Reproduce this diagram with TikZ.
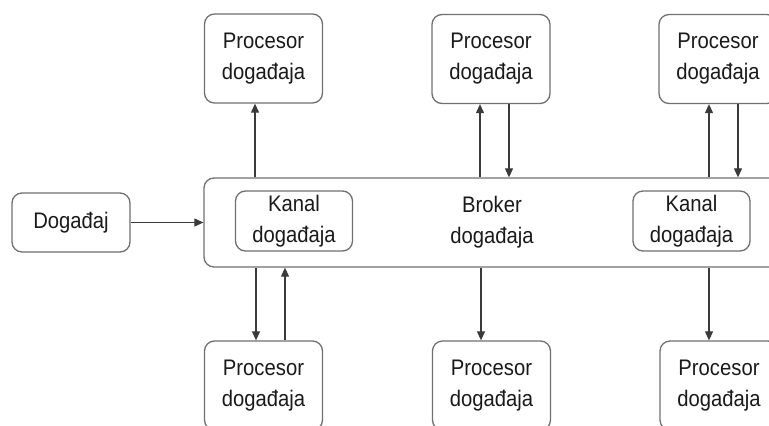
\documentclass[tikz,border=0pt]{standalone}
\usepackage{fontspec}
\setmainfont{Liberation Sans}[FakeStretch=0.9]
\usetikzlibrary{arrows.meta}
\definecolor{boxline}{HTML}{707070}
\definecolor{arrline}{HTML}{3A3A3A}
\definecolor{txt}{HTML}{1A1A1A}
\tikzset{
  box/.style={draw=boxline, line width=1.3pt, rounded corners=10pt, fill=white,
    text=txt, align=center, inner sep=0pt,
    font=\fontsize{22.5}{31}\selectfont},
  proc/.style={box, minimum width=118pt, minimum height=89pt},
  kanal/.style={box, minimum width=117pt, minimum height=60pt},
  lbl/.style={text=txt, align=center, font=\fontsize{22.5}{31}\selectfont},
  arr/.style={draw=arrline, line width=1.1pt, -{Triangle[length=9pt,width=8pt]}}
}
\begin{document}
\begin{tikzpicture}[x=1pt,y=-1pt]
\useasboundingbox (0,0) rectangle (769,426);
\clip (0,0) rectangle (769,426);
\node[box, minimum width=118pt, minimum height=59pt] (dog) at (71,222.5) {Događaj};
\node[box, minimum width=600pt, minimum height=89pt] (broker) at (504,222.5) {};
\node[lbl] (brokertxt) at (492,222) {Broker\\događaja};
\node[kanal] (k1) at (294,221) {Kanal\\događaja};
\node[kanal] (k2) at (691.5,221) {Kanal\\događaja};
\node[proc] (pt1) at (263.5,58.5) {Procesor\\događaja};
\node[proc] (pt2) at (491,59) {Procesor\\događaja};
\node[proc] (pt3) at (718,59) {Procesor\\događaja};
\node[proc] (pb1) at (263.5,385.5) {Procesor\\događaja};
\node[proc] (pb2) at (491.5,385.5) {Procesor\\događaja};
\node[proc] (pb3) at (719,385.5) {Procesor\\događaja};
% input
\draw[arr] (dog.east) -- (broker.west |- dog.east);
% top
\draw[arr] ([xshift=-8.5pt]pt1.south |- broker.north) -- ([xshift=-8.5pt]pt1.south);
\draw[arr] ([xshift=-11pt]pt2.south |- broker.north) -- ([xshift=-11pt]pt2.south);
\draw[arr] ([xshift=18pt]pt2.south) -- ([xshift=18pt]pt2.south |- broker.north);
\draw[arr] ([xshift=-9pt]pt3.south |- broker.north) -- ([xshift=-9pt]pt3.south);
\draw[arr] ([xshift=20pt]pt3.south) -- ([xshift=20pt]pt3.south |- broker.north);
% bottom
\draw[arr] ([xshift=-7.5pt]pb1.north |- broker.south) -- ([xshift=-7.5pt]pb1.north);
\draw[arr] ([xshift=21.5pt]pb1.north) -- ([xshift=21.5pt]pb1.north |- broker.south);
\draw[arr] ([xshift=-10.5pt]pb2.north |- broker.south) -- ([xshift=-10.5pt]pb2.north);
\draw[arr] ([xshift=-10pt]pb3.north |- broker.south) -- ([xshift=-10pt]pb3.north);
\end{tikzpicture}
\end{document}
